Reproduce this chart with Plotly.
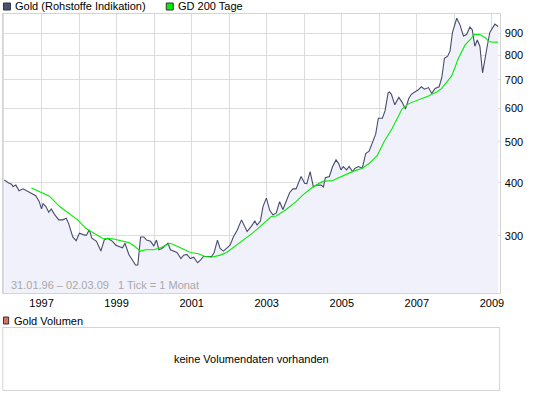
import plotly.graph_objects as go

W, H = 545, 395

# ---- data ----
gold_dates = [
    "1996-01-05", "1996-02-12", "1996-03-15", "1996-03-30", "1996-04-26", "1996-05-28", "1996-07-05",
    "1996-09-02", "1996-10-10", "1996-11-06", "1996-12-08", "1997-01-01", "1997-01-16", "1997-02-11",
    "1997-03-13", "1997-04-06", "1997-05-07", "1997-06-18", "1997-07-26", "1997-08-29", "1997-09-23",
    "1997-11-01", "1997-12-04", "1998-01-05", "1998-02-23", "1998-03-15", "1998-04-10", "1998-05-06",
    "1998-06-20", "1998-08-02", "1998-09-03", "1998-10-05", "1998-11-23", "1998-12-25", "1999-02-28",
    "1999-03-24", "1999-05-01", "1999-06-03", "1999-07-05", "1999-07-27", "1999-08-23", "1999-09-24",
    "1999-10-20", "1999-11-28", "1999-12-30", "2000-01-25", "2000-02-17", "2000-03-18", "2000-04-21",
    "2000-05-16", "2000-06-08", "2000-07-10", "2000-08-11", "2000-09-19", "2000-10-15", "2000-11-16",
    "2000-12-19", "2001-01-21", "2001-02-28", "2001-03-30", "2001-04-26", "2001-07-15", "2001-08-08",
    "2001-09-09", "2001-10-05", "2001-11-06", "2001-12-08", "2002-01-10", "2002-02-11", "2002-03-20",
    "2002-05-01", "2002-05-24", "2002-06-25", "2002-08-06", "2002-09-08", "2002-09-30", "2002-11-01",
    "2002-11-27", "2002-12-29", "2003-02-01", "2003-03-03", "2003-04-04", "2003-05-07", "2003-06-08",
    "2003-07-10", "2003-08-12", "2003-09-13", "2003-10-14", "2003-12-02", "2004-01-05", "2004-01-27",
    "2004-02-28", "2004-03-31", "2004-05-02", "2004-06-13", "2004-07-06", "2004-07-25", "2004-09-02",
    "2004-10-04", "2004-11-06", "2004-12-02", "2004-12-24", "2005-01-16", "2005-02-17", "2005-03-14",
    "2005-04-15", "2005-05-11", "2005-06-12", "2005-07-20", "2005-08-22", "2005-09-24", "2005-10-26",
    "2005-11-27", "2005-12-23", "2006-01-31", "2006-02-26", "2006-03-28", "2006-04-10", "2006-04-29",
    "2006-06-01", "2006-07-10", "2006-08-10", "2006-09-12", "2006-10-15", "2006-11-09", "2006-12-12",
    "2007-01-13", "2007-02-14", "2007-03-17", "2007-04-25", "2007-05-27", "2007-06-28", "2007-08-06",
    "2007-09-01", "2007-09-27", "2007-10-29", "2007-11-21", "2007-12-14", "2008-01-25", "2008-02-26",
    "2008-03-30", "2008-04-30", "2008-06-01", "2008-06-24", "2008-07-19", "2008-08-12", "2008-09-06",
    "2008-10-02", "2008-10-25", "2008-11-20", "2008-12-12", "2009-01-30", "2009-03-02",
]
gold_values = [
    406, 400, 397, 392, 395, 383, 387,
    381, 376, 373, 362, 347, 357, 352,
    341, 347, 337, 327, 327, 330, 320,
    298, 292, 304, 301, 301, 310, 296,
    291, 276, 293, 296, 291, 285, 281,
    288, 271, 263, 256, 256, 298, 298,
    293, 291, 284, 293, 278, 280, 285,
    288, 278, 276, 274, 265, 270, 271,
    265, 267, 259, 263, 268, 268, 274,
    293, 280, 276, 280, 285, 298, 309,
    327, 318, 307, 316, 325, 318, 325,
    352, 368, 344, 336, 339, 361, 346,
    361, 379, 387, 387, 414, 399, 398,
    425, 391, 395, 395, 391, 411, 414,
    437, 453, 444, 429, 437, 429, 437,
    425, 433, 437, 433, 469, 475, 500,
    521, 568, 568, 591, 652, 655, 647,
    611, 636, 620, 597, 632, 647, 655,
    662, 674, 665, 671, 650, 668, 674,
    707, 787, 796, 819, 905, 978, 942,
    888, 895, 932, 919, 840, 869, 840,
    727, 790, 849, 905, 947, 935,
]

gd200_dates = [
    "1996-09-25", "1996-12-14", "1997-03-19", "1997-06-24", "1997-09-30", "1997-12-19", "1998-03-09",
    "1998-05-28", "1998-08-17", "1998-11-23", "1999-02-28", "1999-05-01", "1999-06-19", "1999-08-23",
    "1999-10-10", "1999-12-30", "2000-03-03", "2000-06-08", "2000-09-14", "2000-12-19", "2001-03-08",
    "2001-05-12", "2001-07-15", "2001-10-05", "2001-12-08", "2002-03-13", "2002-06-18", "2002-08-22",
    "2002-11-27", "2003-02-16", "2003-04-04", "2003-07-10", "2003-10-14", "2003-12-18", "2004-03-24",
    "2004-06-29", "2004-10-04", "2004-12-24", "2005-04-15", "2005-07-20", "2005-09-24", "2005-12-13",
    "2006-02-16", "2006-05-06", "2006-06-23", "2006-08-10", "2006-10-15", "2007-01-20", "2007-04-25",
    "2007-07-14", "2007-09-01", "2007-10-19", "2007-12-07", "2008-02-10", "2008-04-14", "2008-06-01",
    "2008-07-13", "2008-09-06", "2008-10-25", "2008-12-02", "2009-01-14", "2009-03-02",
]
gd200_values = [
    389, 381, 372, 352, 338, 327, 312,
    304, 296, 295, 292, 289, 284, 276,
    278, 278, 281, 288, 281, 274, 272,
    268, 267, 270, 274, 285, 296, 305,
    320, 333, 334, 346, 361, 374, 391,
    403, 405, 414, 425, 433, 444, 464,
    500, 537, 568, 597, 615, 627, 641,
    655, 668, 691, 715, 787, 845, 869,
    895, 895, 881, 862, 858, 859,
]

y_tick_values = [300, 400, 500, 600, 700, 800, 900]
x_tick_years = list(range(1996, 2010))
x_label_years = [1997, 1999, 2001, 2003, 2005, 2007, 2009]

series_names = ["Gold (Rohstoffe Indikation)", "GD 200 Tage"]
volume_name = "Gold Volumen"
volume_message = "keine Volumendaten vorhanden"
period_text = "31.01.96 \u2013 02.03.09   1 Tick = 1 Monat"

# ---- styling ----
FONT = "Liberation Sans, Arial, sans-serif"
GOLD_COLOR = "#474c6c"
GD_COLOR = "#00ee00"
FILL_COLOR = "#f1f1fb"
GRID = "#dcdcdc"
BORDER = "#d4d4d4"


def px(x):
    return x / W


def py(y):
    return 1 - y / H


PLOT_L, PLOT_R, PLOT_T, PLOT_B = 2.8, 503.3, 13.5, 293.0

fig = go.Figure()
fig.add_trace(go.Scatter(
    x=gold_dates, y=gold_values, mode="lines", name=series_names[0],
    line=dict(color=GOLD_COLOR, width=1.1), fill="tozeroy", fillcolor=FILL_COLOR,
    showlegend=False, hoverinfo="skip",
))
fig.add_trace(go.Scatter(
    x=gd200_dates, y=gd200_values, mode="lines", name=series_names[1],
    line=dict(color=GD_COLOR, width=1.1), showlegend=False, hoverinfo="skip",
))

tickvals = [f"{y}-01-01" for y in x_tick_years]
ticktext = [str(y) if y in x_label_years else "" for y in x_tick_years]

fig.update_xaxes(
    type="date", range=["1995-12-21", "2009-03-17"],
    domain=[px(PLOT_L), px(PLOT_R)],
    tickmode="array", tickvals=tickvals, ticktext=ticktext,
    showgrid=True, gridcolor=GRID, gridwidth=1,
    showline=True, linecolor=BORDER, linewidth=1, mirror=True,
    ticks="", tickfont=dict(family=FONT, size=11, color="#000000"),
    zeroline=False, fixedrange=True,
)
fig.update_yaxes(
    type="log", range=[2.342, 3.0015], side="right",
    domain=[py(PLOT_B), py(PLOT_T)],
    tickmode="array", tickvals=y_tick_values + [1000],
    ticktext=[str(v) for v in y_tick_values] + [""],
    showgrid=True, gridcolor=GRID, gridwidth=1,
    showline=True, linecolor=BORDER, linewidth=1, mirror=True,
    ticks="", ticklabelstandoff=2,
    tickfont=dict(family=FONT, size=11, color="#000000"),
    zeroline=False, fixedrange=True,
)

shapes = []
annotations = []

# legend for the main panel
legend_items = [(3.5, "#4b5173", series_names[0]), (167.5, GD_COLOR, series_names[1])]
for lx, col, name in legend_items:
    shapes.append(dict(type="rect", xref="paper", yref="paper",
                       x0=px(lx), x1=px(lx + 7), y0=py(10), y1=py(3),
                       fillcolor=col, line=dict(color="#333333", width=1)))
    annotations.append(dict(xref="paper", yref="paper", x=px(lx + 10), y=py(6.5),
                            text=name, showarrow=False, xanchor="left", yanchor="middle",
                            font=dict(family=FONT, size=11, color="#000000")))

# period text inside plot
annotations.append(dict(xref="paper", yref="paper", x=px(9), y=py(285),
                        text=period_text, showarrow=False, xanchor="left", yanchor="middle",
                        font=dict(family=FONT, size=11, color="#a8a8a8")))

# volume panel
shapes.append(dict(type="rect", xref="paper", yref="paper",
                   x0=px(3.5), x1=px(8.7), y0=py(324), y1=py(317),
                   fillcolor="#d9706a", line=dict(color="#333333", width=1)))
annotations.append(dict(xref="paper", yref="paper", x=px(12), y=py(320.5),
                        text=volume_name, showarrow=False, xanchor="left", yanchor="middle",
                        font=dict(family=FONT, size=11, color="#000000")))
shapes.append(dict(type="rect", xref="paper", yref="paper",
                   x0=px(PLOT_L), x1=px(PLOT_R), y0=py(390.5), y1=py(327.5),
                   fillcolor="white", line=dict(color=BORDER, width=1)))
annotations.append(dict(xref="paper", yref="paper", x=px(253), y=py(358.5),
                        text=volume_message, showarrow=False, xanchor="center", yanchor="middle",
                        font=dict(family=FONT, size=11, color="#000000")))

fig.update_layout(
    width=W, height=H, margin=dict(l=0, r=0, t=0, b=0, pad=0),
    paper_bgcolor="white", plot_bgcolor="white",
    shapes=shapes, annotations=annotations, showlegend=False,
    hovermode=False,
)

fig.write_html(
    "out.html",
    config={"displayModeBar": False, "staticPlot": True},
    post_script="document.body.style.margin='0';document.body.style.overflow='hidden';",
)
